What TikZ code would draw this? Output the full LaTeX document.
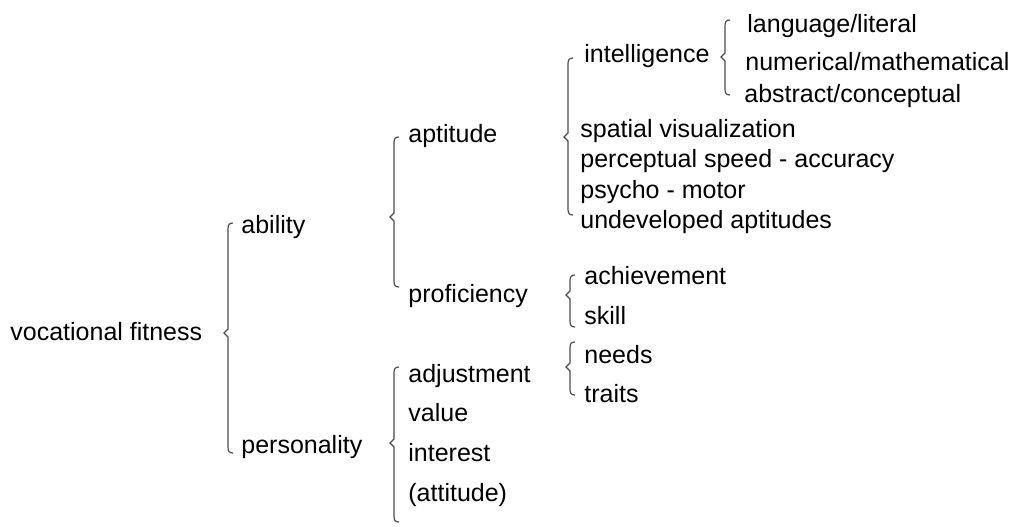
\documentclass[tikz,border=0pt]{standalone}
\usepackage{fontspec}
\setmainfont{Liberation Sans}
\usepackage{tikz}
\usetikzlibrary{positioning}

% curly brace: x, top, middle, bottom
\newcommand{\brc}[4]{%
  \draw[bracket] (#1+5,#2) .. controls (#1+1,#2) and (#1,#2+2) .. (#1,#2+6)
    -- (#1,#3-4) -- (#1-4,#3) -- (#1,#3+4) -- (#1,#4-6)
    .. controls (#1,#4-2) and (#1+1,#4) .. (#1+5,#4);}

\begin{document}
\begin{tikzpicture}[x=0.5pt, y=-0.5pt,
    every node/.style={inner sep=0pt, anchor=base west, font=\fontsize{12.5}{15}\selectfont},
    bracket/.style={draw=black!70, line width=0.6pt}]
    \useasboundingbox (0,0) rectangle (1012,526);

    % root and first level
    \node (fit) at (10,340) {vocational fitness};
    \node (abil) at (241,233) {ability};
    \node (pers) at (241,453) {personality};
    \brc{228}{223}{333}{453}

    % ability branch
    \node (apt) at (408,142) {aptitude};
    \node (prof) at (408,302) {proficiency};
    \brc{394}{137}{217}{287}

    % personality branch
    \node (adj) at (408,382) {adjustment};
    \node (val) at (408,421) {value};
    \node (int) at (408,461) {interest};
    \node (att) at (408,501) {(attitude)};
    \brc{394}{367}{443}{522}

    % aptitude
    \node (intel) at (584,62) {intelligence};
    \node (spat) at (580,137) {spatial visualization};
    \node (perc) at (580,167) {perceptual speed - accuracy};
    \node (psy) at (580,198) {psycho - motor};
    \node (undev) at (580,228) {undeveloped aptitudes};
    \brc{568}{58}{137}{215}

    % intelligence
    \node (lang) at (747,32) {language/literal};
    \node (num) at (745,70) {numerical/mathematical};
    \node (abs) at (744,102) {abstract/conceptual};
    \brc{725}{20}{57}{95}

    % proficiency
    \node (ach) at (584,284) {achievement};
    \node (skill) at (584,324) {skill};
    \brc{570}{275}{295}{327}

    % adjustment
    \node (need) at (584,363) {needs};
    \node (trait) at (584,402) {traits};
    \brc{570}{342}{367}{395}
\end{tikzpicture}
\end{document}
